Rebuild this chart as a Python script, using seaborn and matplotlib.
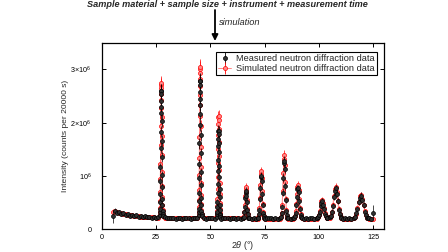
import numpy as np
import pandas as pd
import matplotlib
matplotlib.use("Agg")
import matplotlib.pyplot as plt
import seaborn as sns
from matplotlib.lines import Line2D

# 2theta grid (degrees) shared by both series
two_theta = [
    5, 6, 7, 8, 9, 10, 11, 12, 13, 14, 15, 16, 17, 18, 19, 20, 21, 22, 23, 24, 25, 26,
    26.70, 26.76, 26.82, 26.88, 26.94, 27.00, 27.06, 27.12, 27.18, 27.24, 27.30, 27.36, 27.42,
    27.48, 27.54, 27.60, 27.66, 27.72, 27.78, 27.84, 27.90, 27.96, 28.02, 28.08, 28.14,
    29, 30, 31, 32, 33, 34, 35, 36, 37, 38, 39, 40, 41, 42, 43, 44,
    44.60, 44.66, 44.72, 44.78, 44.84, 44.90, 44.96, 45.02, 45.08, 45.14, 45.20, 45.26, 45.32,
    45.38, 45.44, 45.50, 45.56, 45.62, 45.68, 45.74, 45.80, 45.86, 45.92, 45.98, 46.04,
    47, 48, 49, 50, 51, 52,
    53.03, 53.10, 53.17, 53.24, 53.31, 53.38, 53.45, 53.52, 53.59, 53.66, 53.73, 53.80, 53.87,
    53.94, 54.01, 54.08, 54.15, 54.22, 54.29, 54.36, 54.43, 54.50, 54.57, 54.64, 54.71,
    55, 56, 57, 58, 59, 60, 61, 62, 63, 64, 65,
    65.25, 65.45, 65.65, 65.85, 66.05, 66.25, 66.45, 66.65, 66.85, 67.05, 67.25, 67.45, 67.65,
    68, 69, 70, 71, 72,
    72.14, 72.36, 72.58, 72.80, 73.02, 73.24, 73.46, 73.68, 73.90, 74.12, 74.34, 74.56, 74.78,
    75, 76, 77, 78, 79, 80, 81, 82,
    82.62, 82.86, 83.10, 83.34, 83.58, 83.82, 84.06, 84.30, 84.54, 84.78, 85.02, 85.26, 85.50,
    86, 87, 88,
    88.68, 88.98, 89.28, 89.58, 89.88, 90.18, 90.48, 90.78, 91.08, 91.38, 91.68, 91.98, 92.28,
    93, 94, 95, 96, 97, 98, 99,
    99.2, 99.6, 100.0, 100.4, 100.8, 101.2, 101.6, 102.0, 102.4, 102.8, 103.2, 103.6, 104.0,
    105.2, 105.6, 106.0, 106.5, 106.9, 107.4, 107.8, 108.2, 108.7, 109.1, 109.6, 110.0, 110.4,
    111, 112, 113, 114, 115,
    116.1, 116.6, 117.2, 117.8, 118.3, 118.9, 119.4, 120.0, 120.6, 121.1, 121.7, 122.2, 122.8,
    123, 124, 125,
]

# intensities in thousands of counts per 20000 s
measured = [
    250, 352, 318, 324, 290, 303, 271, 286, 259, 270, 248, 262, 238, 251, 231, 244, 226, 237, 219, 233, 216, 228,
    268, 325, 380, 521, 660, 915, 1163, 1522, 1830, 2185, 2408, 2601, 2598,
    2537, 2290, 2028, 1659, 1352, 1021, 792, 574, 451, 343, 298, 252,
    226, 208, 221, 211, 224, 205, 219, 213, 202, 222, 209, 217, 204, 220, 208, 215,
    262, 330, 387, 538, 689, 961, 1230, 1614, 1948, 2330, 2571, 2779, 2788,
    2706, 2447, 2160, 1765, 1433, 1075, 828, 596, 461, 345, 296, 248,
    219, 204, 216, 207, 221, 203,
    240, 286, 321, 419, 508, 689, 852, 1101, 1306, 1556, 1702, 1840, 1838,
    1795, 1621, 1448, 1190, 987, 755, 603, 451, 370, 293, 265, 231,
    203, 217, 206, 214, 200, 218, 209, 201, 215, 204, 211,
    224, 240, 321, 419, 584, 680, 724, 630, 508, 357, 281, 222, 218,
    212, 199, 214, 203, 210,
    220, 281, 368, 566, 774, 983, 1006, 899, 661, 466, 309, 249, 211,
    198, 213, 206, 216, 201, 209, 197, 212,
    227, 303, 426, 690, 972, 1249, 1283, 1138, 818, 553, 345, 262, 213,
    210, 199, 214,
    214, 260, 318, 462, 605, 755, 769, 697, 524, 391, 277, 238, 207,
    202, 215, 198, 209, 213, 200, 211,
    219, 225, 279, 333, 438, 494, 525, 463, 392, 296, 254, 214, 215,
    226, 244, 331, 439, 613, 722, 770, 668, 532, 371, 287, 225, 217,
    199, 212, 203, 210, 196,
    220, 232, 301, 379, 516, 596, 634, 554, 453, 328, 267, 217, 214,
    209, 198, 310,
]

simulated = [
    330, 338, 326, 313, 301, 291, 283, 275, 268, 262, 256, 251, 247, 243, 239, 236, 233, 230, 228, 226, 224, 222,
    276, 324, 402, 524, 698, 936, 1232, 1574, 1933, 2272, 2545, 2712, 2745,
    2644, 2419, 2107, 1753, 1399, 1078, 809, 605, 455, 357, 296, 260,
    219, 218, 217, 217, 216, 216, 215, 215, 214, 214, 214, 213, 213, 213, 212, 212,
    274, 328, 416, 553, 748, 1015, 1347, 1730, 2133, 2514, 2820, 3007, 3044,
    2931, 2678, 2329, 1932, 1535, 1174, 873, 643, 476, 365, 297, 257,
    212, 212, 211, 211, 211, 210,
    252, 289, 348, 440, 573, 753, 978, 1237, 1510, 1767, 1974, 2101, 2126,
    2049, 1878, 1642, 1374, 1105, 861, 657, 502, 389, 314, 268, 241,
    210, 210, 209, 209, 208, 208, 207, 207, 206, 206, 206,
    220, 254, 330, 462, 629, 764, 796, 705, 544, 389, 285, 233, 213,
    206, 205, 205, 205, 205,
    228, 278, 393, 592, 842, 1046, 1094, 958, 715, 482, 326, 247, 217,
    205, 205, 205, 205, 205, 205, 205, 205,
    236, 303, 456, 721, 1056, 1328, 1392, 1210, 886, 575, 366, 261, 221,
    205, 205, 205,
    222, 257, 338, 479, 657, 802, 836, 739, 567, 402, 291, 235, 213,
    205, 205, 205, 205, 205, 205, 205,
    214, 233, 277, 354, 451, 529, 548, 495, 402, 312, 252, 221, 209,
    220, 253, 329, 460, 625, 760, 791, 701, 541, 388, 285, 233, 213,
    205, 204, 204, 204, 203,
    215, 240, 297, 396, 521, 623, 647, 579, 458, 342, 263, 224, 209,
    204, 203, 203,
]

# counting-statistics error factor, and the larger errors at the two end points
err_factor = 2.5
end_errors = [120, 140]

x_ticks = [0, 25, 50, 75, 100, 125]
y_ticks = [0, 1e6, 2e6, 3e6]
y_tick_labels = ["0", r"10$^6$", r"2×10$^6$", r"3×10$^6$"]
legend_labels = ["Measured neutron diffraction data", "Simulated neutron diffraction data"]

sns.set_style("ticks", {"xtick.direction": "in", "ytick.direction": "in",
                        "axes.edgecolor": "black"})
plt.rcParams["font.family"] = ["Liberation Sans", "DejaVu Sans"]
plt.rcParams["mathtext.fontset"] = "custom"
plt.rcParams["mathtext.rm"] = "Liberation Sans"
plt.rcParams["mathtext.it"] = "Liberation Sans:italic"
plt.rcParams["mathtext.bf"] = "Liberation Sans:bold"

df = pd.DataFrame({
    "two_theta": two_theta,
    "measured": np.array(measured) * 1e3,
    "simulated": np.array(simulated) * 1e3,
})
df["meas_err"] = err_factor * np.sqrt(measured) * 1e3
df["sim_err"] = err_factor * np.sqrt(simulated) * 1e3
df.loc[0, "meas_err"] = end_errors[0] * 1e3
df.loc[len(df) - 1, "meas_err"] = end_errors[1] * 1e3

fs = 6.7
tick_fs = 5.2
meas_face, sim_face, sim_line = "#303030", "#ff8a8a", "#ff7070"

fig = plt.figure(figsize=(4.48, 2.52), dpi=100)
ax = fig.add_axes([0.227, 0.0893, 0.630, 0.740])

# simulated: error bars, connecting line and markers
ax.errorbar(df["two_theta"], df["simulated"], yerr=df["sim_err"], fmt="none",
            ecolor="red", elinewidth=0.5, zorder=1)
sns.lineplot(data=df, x="two_theta", y="simulated", ax=ax, color=sim_line, lw=0.6,
             marker="o", ms=2.9, mfc=sim_face, mec="red", mew=0.5,
             estimator=None, sort=False, legend=False, zorder=2)

# measured: error bars and markers
ax.errorbar(df["two_theta"], df["measured"], yerr=df["meas_err"], fmt="none",
            ecolor="black", elinewidth=0.5, zorder=3)
sns.scatterplot(data=df, x="two_theta", y="measured", ax=ax, s=8,
                color=meas_face, edgecolor="black", linewidth=0.5,
                legend=False, zorder=4)

ax.set_xlim(0, 130)
ax.set_ylim(0, 3.49e6)
ax.set_xticks(x_ticks)
ax.set_xticklabels([str(t) for t in x_ticks])
ax.set_yticks(y_ticks)
ax.set_yticklabels(y_tick_labels)
ax.tick_params(direction="in", top=True, right=True, length=3, width=0.7,
               labelsize=tick_fs, colors="black")
ax.tick_params(axis="y", pad=7.5)
ax.tick_params(axis="x", pad=3)
for s in ax.spines.values():
    s.set_linewidth(0.9)
    s.set_color("black")

ax.set_xlabel(r"$2\theta$ (°)", fontsize=6.4)
ax.xaxis.set_label_coords(0.5, -0.087)
ax.xaxis.label.set_va("center")
ax.set_ylabel("Intensity (counts per 20000 s)", fontsize=6.1)
ax.yaxis.set_label_coords(-0.127, 0.5)
ax.yaxis.label.set_va("center")

meas_handle = (
    Line2D([], [], color="black", marker="|", ms=8, mew=0.6, ls="none"),
    Line2D([], [], marker="o", ls="none", mfc=meas_face, mec="black", ms=2.9, mew=0.5),
)
sim_handle = (
    Line2D([], [], color=sim_line, lw=0.6),
    Line2D([], [], color="red", marker="|", ms=8, mew=0.6, ls="none"),
    Line2D([], [], marker="o", ls="none", mfc=sim_face, mec="red", ms=2.9, mew=0.5),
)
leg = ax.legend([meas_handle, sim_handle], legend_labels, loc="upper right",
                bbox_to_anchor=(0.975, 0.952), borderaxespad=0, fontsize=fs,
                frameon=True, fancybox=False, edgecolor="black", framealpha=1,
                handlelength=1.4, handletextpad=0.5, borderpad=0.25,
                labelspacing=0.05)
leg.get_frame().set_linewidth(0.8)

fig.text(227.5 / 448, 1 - 4.5 / 252,
         "Sample material + sample size + instrument + measurement time",
         ha="center", va="center", fontsize=6.6, fontweight="bold", fontstyle="italic")
ax.annotate("", xy=(215, 252 - 41), xytext=(215, 252 - 10), xycoords="figure pixels",
            textcoords="figure pixels",
            arrowprops=dict(arrowstyle="-|>", color="black", lw=1.3,
                            mutation_scale=9, shrinkA=0, shrinkB=0))
fig.text(219 / 448, 1 - 22.7 / 252, "simulation", ha="left", va="center",
         fontsize=fs, fontstyle="italic")

fig.savefig("out.png", dpi=100)
